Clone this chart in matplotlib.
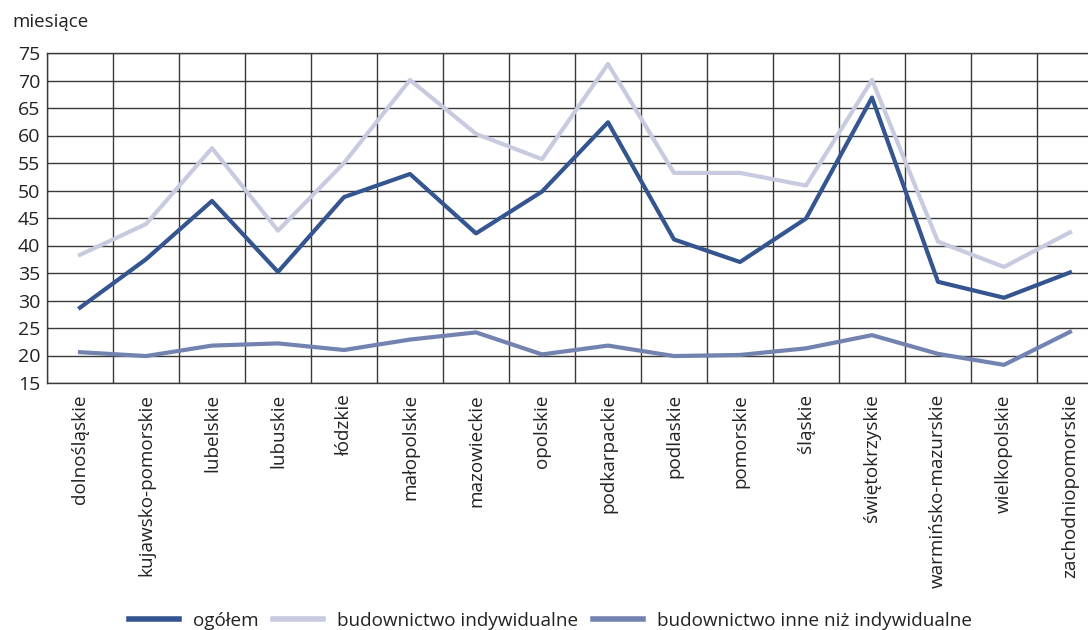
import matplotlib
matplotlib.use("Agg")
import matplotlib.pyplot as plt

# województwa
regions = ['dolnośląskie', 'kujawsko-pomorskie', 'lubelskie', 'lubuskie', 'łódzkie',
           'małopolskie', 'mazowieckie', 'opolskie', 'podkarpackie', 'podlaskie',
           'pomorskie', 'śląskie', 'świętokrzyskie', 'warmińsko-mazurskie',
           'wielkopolskie', 'zachodniopomorskie']

ogolem = [28.7, 37.5, 48.1, 35.2, 48.8, 53.0, 42.2, 49.8, 62.4, 41.1,
          37.0, 44.9, 66.9, 33.4, 30.5, 35.1]
indywidualne = [38.3, 43.9, 57.7, 42.7, 55.0, 70.1, 60.3, 55.7, 73.0, 53.2,
                53.2, 50.9, 70.1, 40.7, 36.1, 42.4]
inne = [20.6, 19.9, 21.8, 22.2, 21.0, 22.9, 24.2, 20.2, 21.8, 19.9,
        20.1, 21.3, 23.7, 20.3, 18.3, 24.3]

plt.rcParams['font.family'] = ['Open Sans', 'DejaVu Sans']

fig = plt.figure(figsize=(10.88, 6.30), dpi=100)
ax = fig.add_axes([47/1088, 1-383/630, 1056/1088, 330/630])

x = range(len(regions))
ax.plot(x, ogolem, color='#34558f', lw=3, label='ogółem', zorder=3)
ax.plot(x, indywidualne, color='#c8cae0', lw=3, label='budownictwo indywidualne', zorder=2)
ax.plot(x, inne, color='#7383b0', lw=3, label='budownictwo inne niż indywidualne', zorder=2)

ax.set_xlim(-0.5, len(regions) - 0.5)
ax.set_ylim(15, 75)
ax.set_yticks(range(15, 80, 5))
ax.set_xticks(list(x))
ax.set_xticklabels(regions, rotation=90, fontsize=13.6, color='#222222')
ax.set_xticks([i + 0.5 for i in range(-1, len(regions))], minor=True)
ax.tick_params(axis='both', which='both', length=0)
ax.tick_params(axis='y', labelsize=14, labelcolor='#222222', pad=5)
ax.tick_params(axis='x', pad=8)

ax.grid(True, axis='y', which='major', color='#3a3a3a', lw=1)
ax.grid(True, axis='x', which='minor', color='#3a3a3a', lw=1)
ax.set_axisbelow(True)
for s in ax.spines.values():
    s.set_color('#3a3a3a')
    s.set_linewidth(1)

fig.text(12/1088, 1-22/630, 'miesiące', fontsize=13.5, color='#222222', va='center', ha='left')

leg = fig.legend(loc='center', bbox_to_anchor=(0.506, 1-621/630), ncol=3, frameon=False,
                 fontsize=13.6, handlelength=2.65, columnspacing=0.75, handletextpad=0.75,
                 labelcolor='#222222')
for h in leg.legend_handles:
    h.set_linewidth(4)

fig.savefig('out.png', dpi=100)
